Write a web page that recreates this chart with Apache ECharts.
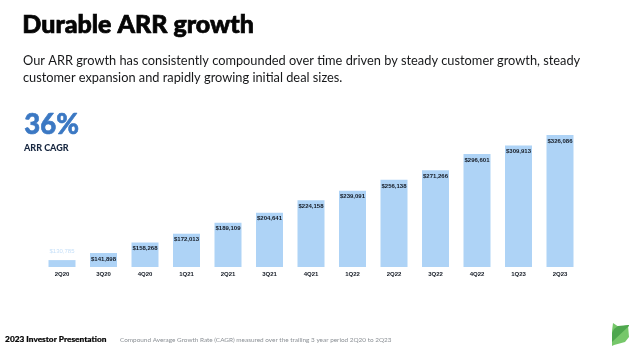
<!DOCTYPE html>
<html>
<head>
<meta charset="utf-8">
<style>html,body{margin:0;padding:0;background:#fff}#chart{width:640px;height:352px}</style>
<script src="https://cdn.jsdelivr.net/npm/echarts@6/dist/echarts.min.js"></script>
</head>
<body>
<div id="chart"></div>
<script>
var quarters = ['2Q20','3Q20','4Q20','1Q21','2Q21','3Q21','4Q21','1Q22','2Q22','3Q22','4Q22','1Q23','2Q23'];
var arr = [130785,141898,158268,172013,189109,204641,224158,239091,256138,271266,296601,309913,326086];
var introLines = [
  'Our ARR growth has consistently compounded over time driven by steady customer growth, steady',
  'customer expansion and rapidly growing initial deal sizes.'
];

var font = 'Lato, "Noto Sans", sans-serif';
var smallFont = '"Liberation Sans", Arial, sans-serif';
var chart = echarts.init(document.getElementById('chart'), null, {renderer: 'canvas'});

function money(v) {
  return '$' + v.toLocaleString('en-US');
}

// heavy adds a thin outline, Lato black is lighter than the slide's font
function txt(x, y, text, size, weight, color, heavy) {
  return {
    type: 'text', left: x, top: y,
    style: {
      text: text, fontFamily: font, fontSize: size, fontWeight: weight, fill: color,
      stroke: heavy ? color : null, lineWidth: heavy || 0
    }
  };
}

var option = {
  animation: false,
  backgroundColor: '#fff',
  grid: {left: 41.25, right: 59.25, top: 132.6, bottom: 85},
  xAxis: {
    type: 'category',
    data: quarters,
    axisLine: {show: false},
    axisTick: {show: false},
    axisLabel: {color: '#141a24', fontFamily: smallFont, fontSize: 6, fontWeight: 700, margin: 4}
  },
  yAxis: {type: 'value', min: 120000, max: 330000, show: false, splitLine: {show: false}},
  series: [{
    type: 'bar',
    barWidth: 27,
    itemStyle: {color: '#aed3f6'},
    label: {
      show: true, position: 'insideTop', distance: 3,
      fontFamily: smallFont, fontSize: 6, fontWeight: 700, color: '#141a24',
      formatter: function (p) { return money(p.value); }
    },
    data: arr.map(function (v, i) {
      // first bar is too short, its label sits above in a pale tint
      if (i === 0) {
        return {value: v, label: {position: 'top', distance: 6, color: '#c5dff8', fontWeight: 400}};
      }
      return v;
    })
  }],
  graphic: [
    txt(22, 12, 'Durable ARR growth', 25, 900, '#050505', 0.7),
    txt(23, 54, introLines[0], 12.8, 400, '#17181a'),
    txt(23, 71, introLines[1], 12.8, 400, '#17181a'),
    txt(24, 111, '36%', 27.5, 900, '#3b78c3', 0.6),
    txt(24, 143.5, 'ARR CAGR', 9, 900, '#16263f'),
    txt(5, 335.5, '2023 Investor Presentation', 8.3, 900, '#060606', 0.2),
    txt(120, 336.5, 'Compound Average Growth Rate (CAGR) measured over the trailing 3 year period 2Q20 to 2Q23', 6.4, 400, '#8a8f94'),
    {type: 'polygon', shape: {points: [[613,323],[619,327],[628,325],[629,337],[625,342],[614,345],[612,346],[612,331]]}, style: {fill: '#76c76a'}},
    {type: 'polygon', shape: {points: [[612,342],[629,326],[629,325],[618,326],[614,329],[612,333]]}, style: {fill: '#4ea74e'}}
  ]
};

chart.setOption(option);
</script>
</body>
</html>
